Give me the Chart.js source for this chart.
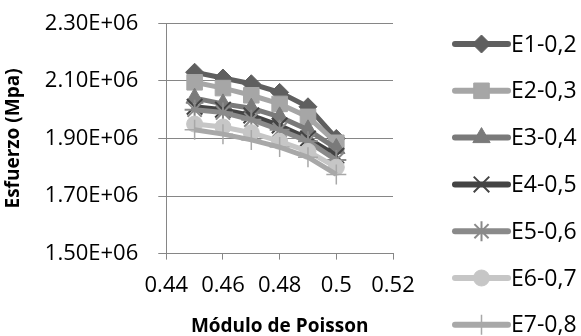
<!DOCTYPE html>
<html>
<head>
<meta charset="utf-8">
<script src="https://cdn.jsdelivr.net/npm/chart.js@4.4.0/dist/chart.umd.min.js"></script>
<style>
  html, body { margin: 0; padding: 0; background: #fff; }
  #wrap { width: 581px; height: 336px; }
</style>
</head>
<body>
<div id="wrap"><canvas id="myChart" width="581" height="336"></canvas></div>
<script>
// poisson ratio on x, stress on y
var poisson = [0.45, 0.46, 0.47, 0.48, 0.49, 0.50];
var seriesNames = ['E1-0,2', 'E2-0,3', 'E3-0,4', 'E4-0,5', 'E5-0,6', 'E6-0,7', 'E7-0,8'];
var e1 = [2.130e6, 2.110e6, 2.090e6, 2.060e6, 2.010e6, 1.900e6];
var e2 = [2.095e6, 2.075e6, 2.050e6, 2.020e6, 1.975e6, 1.885e6];
var e3 = [2.040e6, 2.020e6, 2.005e6, 1.975e6, 1.930e6, 1.865e6];
var e4 = [2.010e6, 2.000e6, 1.980e6, 1.945e6, 1.900e6, 1.840e6];
var e5 = [2.000e6, 1.990e6, 1.965e6, 1.930e6, 1.890e6, 1.825e6];
var e6 = [1.950e6, 1.940e6, 1.920e6, 1.890e6, 1.855e6, 1.800e6];
var e7 = [1.930e6, 1.915e6, 1.895e6, 1.870e6, 1.835e6, 1.775e6];
var allSeries = [e1, e2, e3, e4, e5, e6, e7];
var xTicks = [0.44, 0.46, 0.48, 0.5, 0.52];
var yTicks = [1.5e6, 1.7e6, 1.9e6, 2.1e6, 2.3e6];

// looks
var lineColors = ['#5f5f5f', '#a6a6a6', '#7a7a7a', '#444444', '#8a8a8a', '#c6c6c6', '#a8a8a8'];
var markers = ['rectRot', 'rect', 'triangle', 'crossRot', 'star', 'circle', 'cross'];
var markerSizes = [9, 11, 10, 11, 10, 8, 10];
var markerBorders = [1, 1, 1, 2, 2, 1, 1.5];
var FONT = "'Open Sans', 'Noto Sans', sans-serif";
var GRID = '#868686';

function sci(v) {
    var s = Number(v).toExponential(2).toUpperCase();
    return s.replace(/E([+-])(\d)$/, 'E$10$2');
}

var datasets = allSeries.map(function(vals, i) {
    return {
        label: seriesNames[i],
        data: vals.map(function(v, j) { return {x: poisson[j], y: v}; }),
        borderColor: lineColors[i],
        backgroundColor: lineColors[i],
        borderWidth: 5,
        pointStyle: markers[i],
        pointRadius: markerSizes[i],
        pointBorderWidth: markerBorders[i],
        pointBorderColor: lineColors[i],
        pointBackgroundColor: lineColors[i],
        tension: 0,
        order: allSeries.length - i
    };
});

// legend on the right: line + marker + name, like the spreadsheet one
var sideLegend = {
    id: 'sideLegend',
    afterDraw: function(chart, args, opts) {
        var ctx = chart.ctx;
        var area = chart.chartArea;
        ctx.save();
        chart.data.datasets.forEach(function(ds, i) {
            var y = opts.top + i * opts.step;
            var x0 = area.right + opts.offset;
            ctx.strokeStyle = ds.borderColor;
            ctx.lineWidth = 6;
            ctx.lineCap = 'round';
            ctx.beginPath();
            ctx.moveTo(x0, y);
            ctx.lineTo(x0 + opts.lineLength, y);
            ctx.stroke();
            ctx.lineCap = 'butt';
            ctx.fillStyle = ds.pointBackgroundColor;
            ctx.strokeStyle = ds.pointBorderColor;
            ctx.lineWidth = ds.pointBorderWidth;
            Chart.helpers.drawPoint(ctx, {
                pointStyle: ds.pointStyle,
                radius: ds.pointRadius,
                borderWidth: ds.pointBorderWidth,
                rotation: 0
            }, x0 + opts.lineLength / 2, y);
            ctx.fillStyle = '#000';
            ctx.font = '23px ' + FONT;
            ctx.textAlign = 'left';
            ctx.textBaseline = 'middle';
            ctx.fillText(ds.label, x0 + opts.lineLength + 3, y + 1);
        });
        ctx.restore();
    }
};

var ctx = document.getElementById('myChart');
var myChart = new Chart(ctx, {
    type: 'line',
    data: { datasets: datasets },
    plugins: [sideLegend],
    options: {
        responsive: false,
        animation: false,
        devicePixelRatio: 1,
        layout: { autoPadding: false, padding: { left: 0, right: 188, top: 10, bottom: 0 } },
        plugins: {
            legend: { display: false },
            tooltip: { enabled: false },
            sideLegend: { top: 44, step: 46.8, offset: 62, lineLength: 53 }
        },
        scales: {
            x: {
                type: 'linear',
                min: 0.44,
                max: 0.52,
                afterBuildTicks: function(axis) {
                    axis.ticks = xTicks.map(function(v) { return {value: v}; });
                },
                grid: { drawOnChartArea: false, drawTicks: true, tickLength: 6, color: GRID },
                border: { color: GRID, width: 1 },
                ticks: {
                    color: '#000',
                    padding: 13,
                    maxRotation: 0,
                    font: { family: FONT, size: 22 },
                    callback: function(v) { return String(v); }
                },
                title: {
                    display: true,
                    text: 'Módulo de Poisson',
                    color: '#000',
                    font: { family: FONT, size: 19, weight: 'bold', lineHeight: 1 },
                    padding: { top: 5, bottom: 0 }
                }
            },
            y: {
                min: 1.5e6,
                max: 2.3e6,
                afterBuildTicks: function(axis) {
                    axis.ticks = yTicks.map(function(v) { return {value: v}; });
                },
                grid: { color: GRID, tickLength: 8 },
                border: { color: GRID, width: 1 },
                ticks: {
                    color: '#000',
                    padding: 20,
                    font: { family: FONT, size: 22, lineHeight: 0.3 },
                    callback: function(v) { return sci(v); }
                },
                title: {
                    display: true,
                    text: 'Esfuerzo (Mpa)',
                    color: '#000',
                    font: { family: FONT, size: 19, weight: 'bold' },
                    padding: { top: 2, bottom: 0 }
                }
            }
        }
    }
});
</script>
</body>
</html>
